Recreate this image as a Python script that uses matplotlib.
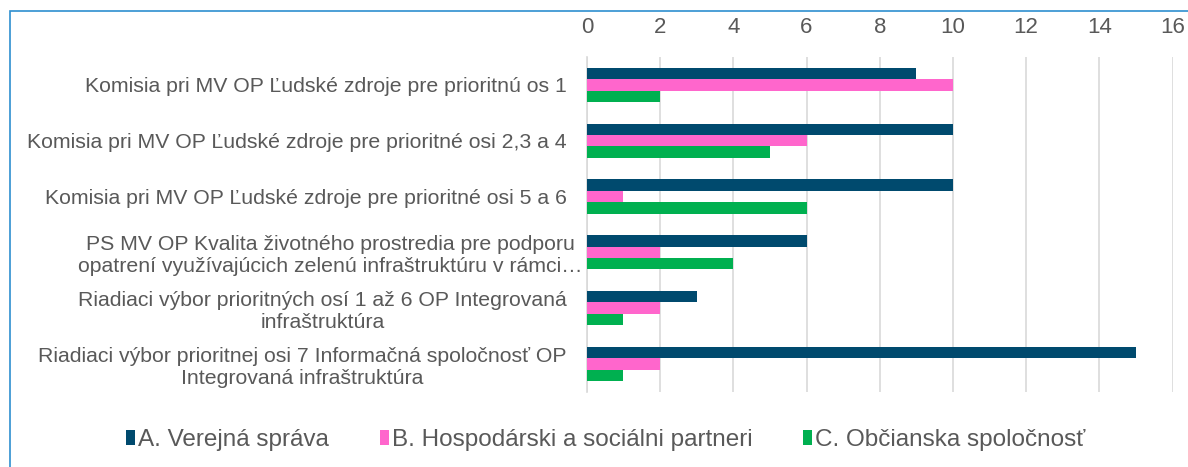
import numpy as np
import matplotlib.pyplot as plt
import matplotlib.transforms as mtrans
from matplotlib.patches import Rectangle

plt.rcParams['font.family'] = ['Liberation Sans', 'DejaVu Sans']

categories = [
    "Komisia pri MV OP Ľudské zdroje pre prioritnú os 1",
    "Komisia pri MV OP Ľudské zdroje pre prioritné osi 2,3 a 4",
    "Komisia pri MV OP Ľudské zdroje pre prioritné osi 5 a 6",
    "PS MV OP Kvalita životného prostredia pre podporu\nopatrení využívajúcich zelenú infraštruktúru v rámci…",
    "Riadiaci výbor prioritných osí 1 až 6 OP Integrovaná\ninfraštruktúra",
    "Riadiaci výbor prioritnej osi 7 Informačná spoločnosť OP\nIntegrovaná infraštruktúra",
]
series_names = ["A. Verejná správa", "B. Hospodárski a sociálni partneri", "C. Občianska spoločnosť"]
verejna = [9, 10, 10, 6, 3, 15]
hospodarski = [10, 6, 1, 2, 2, 2]
obcianska = [2, 5, 6, 4, 1, 1]
colors = ["#004A6E", "#FF66CC", "#00B050"]

txt = "#595959"

fig = plt.figure(figsize=(11.88, 4.67), dpi=100)
ax = fig.add_axes([0.494, 0.161, 0.493, 0.717])

y = np.arange(len(categories))
h = 0.205
for i, (vals, name, c) in enumerate(zip([verejna, hospodarski, obcianska], series_names, colors)):
    ax.barh(y + (i - 1) * h, vals, height=h, color=c, label=name, zorder=3)

ax.set_xlim(0, 16)
ax.set_ylim(5.5, -0.5)
ax.set_xticks(np.arange(0, 17, 2))
ax.xaxis.tick_top()
ax.tick_params(axis='x', length=0, labelsize=16, colors=txt, pad=14)
ax.set_yticks(y)
ax.set_yticklabels(categories, fontsize=15.3, color=txt, multialignment='center', linespacing=1.2)
ax.tick_params(axis='y', length=0, pad=14.4)
ax.grid(axis='x', color="#D9D9D9", linewidth=1.2, zorder=0)
for s in ['top', 'right', 'bottom']:
    ax.spines[s].set_visible(False)
ax.spines['left'].set_color("#D9D9D9")
ax.spines['left'].set_linewidth(1.2)

# the long truncated label sits closer to the axis
lbl = ax.get_yticklabels()[3]
lbl.set_transform(lbl.get_transform() + mtrans.ScaledTranslation(16 / 100, 0, fig.dpi_scale_trans))

fig.legend(loc='center', bbox_to_anchor=(0.51, 0.058), ncol=3, frameon=False,
           fontsize=17.5, labelcolor=txt, handlelength=0.37, handleheight=0.55,
           handletextpad=0.12, columnspacing=2.1)

fig.patches.append(Rectangle((10 / 1188, -0.2), 1.5, 1.2 - 11 / 467, transform=fig.transFigure,
                             fill=False, edgecolor="#2E8FD0", linewidth=1.2, clip_on=False))

fig.savefig("out.png", dpi=100)
